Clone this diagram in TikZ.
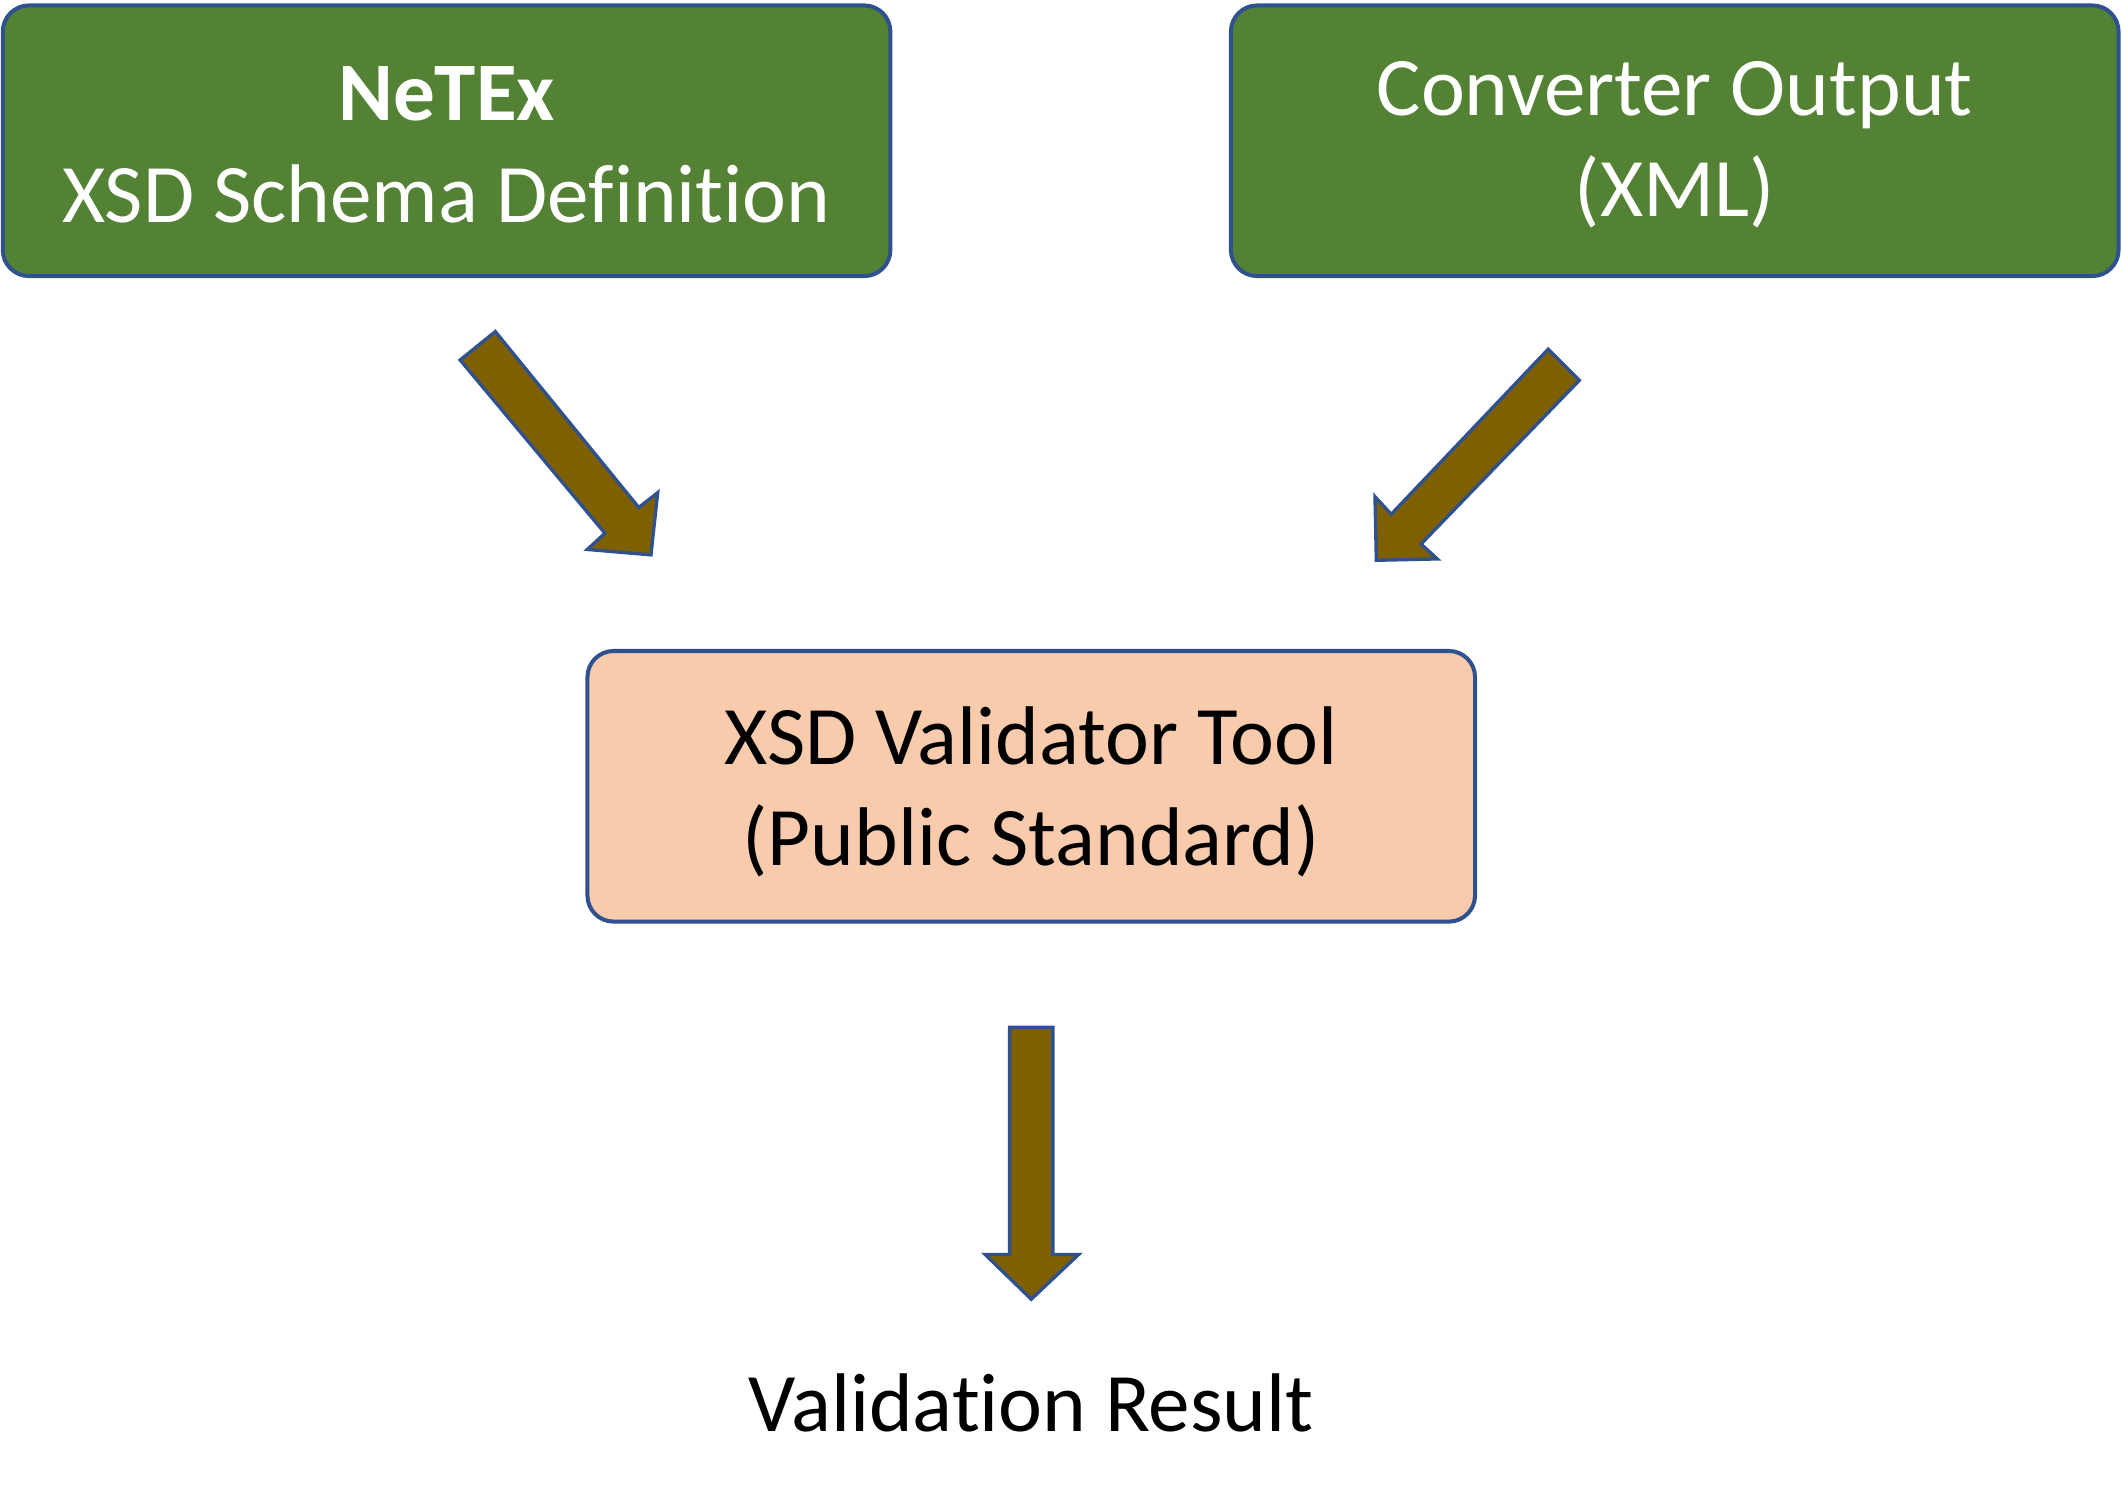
\documentclass[tikz,border=0pt]{standalone}
\usepackage{fontspec}
\setmainfont{Carlito}[Ligatures={NoCommon}]
\definecolor{boxgreen}{HTML}{548235}
\definecolor{boxpeach}{HTML}{F8CBAD}
\definecolor{edgeblue}{HTML}{2F528F}
\definecolor{arrowbrown}{HTML}{7F6000}
\tikzset{
  box/.style={draw=edgeblue, line width=1.7pt, rounded corners=11pt,
    minimum width=13.12cm, minimum height=4cm, inner sep=0pt, align=center,
    font=\fontsize{35}{42.5}\selectfont},
  blockarrow/.style={draw=edgeblue, line width=1.4pt, fill=arrowbrown, line join=miter},
  plaintext/.style={inner sep=0pt, font=\fontsize{35}{42.5}\selectfont}
}
\begin{document}
\begin{tikzpicture}[x=0.02cm, y=-0.02cm]
\useasboundingbox (0,0) rectangle (1568,1110.6);
\node[box, fill=boxgreen, text=white] (netex) at (330,104) {};
\node[text=white, align=center, inner sep=0pt, font=\fontsize{35}{42.5}\selectfont] (netext) at (330,107) {\textbf{NeTEx}\\XSD Schema Definition};
\node[box, fill=boxgreen, text=white] (conv) at (1237.5,104) {};
\node[text=white, align=center, inner sep=0pt, font=\fontsize{35}{42.5}\selectfont] (convt) at (1237.5,107) {Converter Output\\(XML)};
\node[box, fill=boxpeach, text=black] (valid) at (762,581) {};
\node[text=black, align=center, inner sep=0pt, font=\fontsize{35}{42.5}\selectfont] (validt) at (762,585) {XSD Validator Tool\\(Public Standard)};
\node[plaintext, anchor=base] (result) at (762,1058) {Validation Result};
% left arrow
\draw[blockarrow] (366,245) -- (340,266) -- (447,394) -- (434,406) -- (481,410) -- (486,364) -- (472,375) -- cycle;
% right arrow
\draw[blockarrow] (1144,258) -- (1167,281) -- (1050,402) -- (1062,413) -- (1017,414) -- (1016,367) -- (1028,380) -- cycle;
% down arrow
\draw[blockarrow] (746,759) -- (778,759) -- (778,927) -- (797,927) -- (762,960) -- (728,927) -- (746,927) -- cycle;
\end{tikzpicture}
\end{document}
